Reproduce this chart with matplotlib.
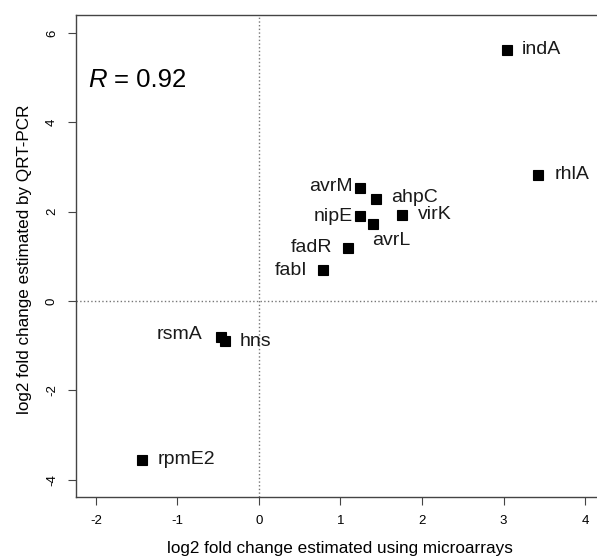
import matplotlib
matplotlib.use("Agg")
import matplotlib.pyplot as plt

plt.rcParams['font.family'] = ['Liberation Sans', 'DejaVu Sans']

genes = ['indA', 'rhlA', 'avrM', 'ahpC', 'nipE', 'avrL', 'virK',
         'fadR', 'fabI', 'rsmA', 'hns', 'rpmE2']
microarray = [3.04, 3.42, 1.24, 1.44, 1.24, 1.40, 1.76, 1.09, 0.79, -0.47, -0.42, -1.44]
qrtpcr = [5.62, 2.82, 2.53, 2.28, 1.90, 1.72, 1.93, 1.19, 0.69, -0.81, -0.90, -3.56]
xticks = [-2, -1, 0, 1, 2, 3, 4]
yticks = [-4, -2, 0, 2, 4, 6]

# label offsets in points (dx, dy) and alignment
offs = {
    'indA': (10.8, 0, 'left'), 'rhlA': (12, 0, 'left'), 'avrM': (-5.3, 1, 'right'),
    'ahpC': (10.8, 1, 'left'), 'nipE': (-5.3, 0, 'right'), 'avrL': (-0.5, -11.5, 'left'),
    'virK': (11.5, 0, 'left'), 'fadR': (-11.5, 0, 'right'), 'fabI': (-11.5, 0, 'right'),
    'rsmA': (-13, 1.5, 'right'), 'hns': (10.8, 0, 'left'), 'rpmE2': (11.5, 0, 'left'),
}

fig = plt.figure(figsize=(5.97, 5.60), dpi=100)
ax = fig.add_axes([76/597, 1 - 497/560, 1 - 76/597, (497 - 15)/560])

ax.axvline(0, color='#777777', ls=':', lw=1)
ax.axhline(0, color='#777777', ls=':', lw=1)
ax.plot(microarray, qrtpcr, 's', color='black', markersize=7, mew=0.8, ls='none')

for g, xv, yv in zip(genes, microarray, qrtpcr):
    dx, dy, ha = offs[g]
    ax.annotate(g, (xv, yv), xytext=(dx, dy), textcoords='offset points',
                ha=ha, va='center', fontsize=14, color='#1a1a1a')

ax.set_xlim(-2.245, 4.147)
ax.set_ylim(-4.39, 6.40)
ax.set_xticks(xticks)
ax.set_yticks(yticks)
ax.set_xticklabels([str(t) for t in xticks], fontsize=9.5)
ax.set_yticklabels([str(t) for t in yticks], fontsize=9.5, rotation=90, va='center')
ax.tick_params(length=6, width=0.8, color='#444444', pad=7)
ax.spines['right'].set_visible(False)
for s in ['left', 'top', 'bottom']:
    ax.spines[s].set_color('#444444')
    ax.spines[s].set_linewidth(1.0)

fig.text(88/597, 1 - 87/560, 'R', fontsize=18.5, style='italic',
         va='baseline', ha='left')
fig.text(114/597, 1 - 87/560, '= 0.92', fontsize=18.5,
         va='baseline', ha='left')

fig.text(340/597, 1 - 548/560, 'log2 fold change estimated using microarrays',
         ha='center', va='center', fontsize=12.3)
fig.text(25/597, 1 - 259/560, 'log2 fold change estimated by QRT-PCR',
         ha='center', va='center', fontsize=12.3, rotation=90)

fig.savefig('out.png', dpi=100)
